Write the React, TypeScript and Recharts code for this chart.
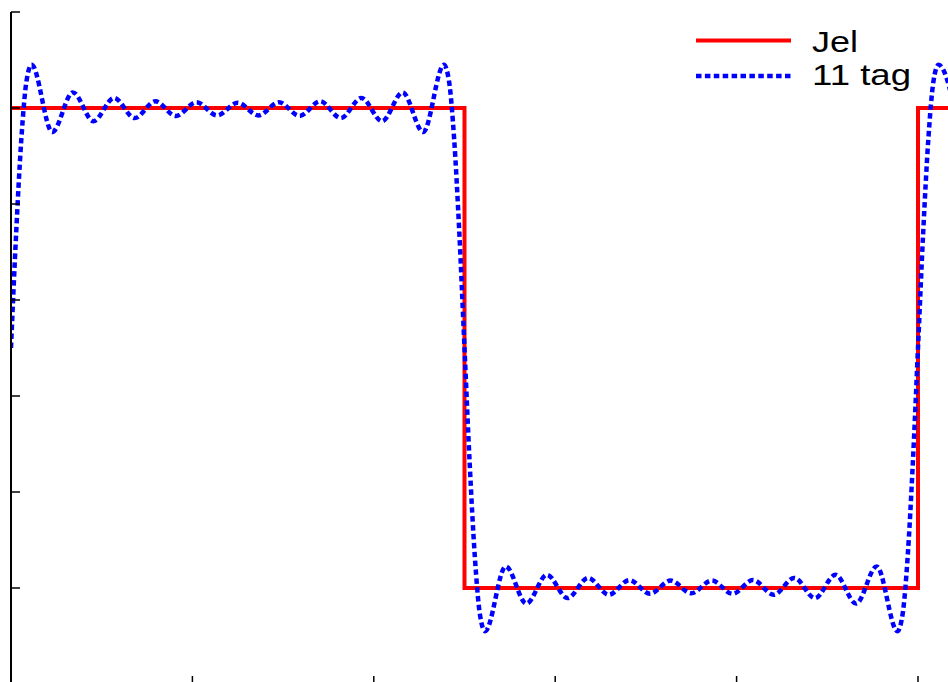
import React from "react"
import { LineChart, Line, XAxis, YAxis } from "recharts"

// square wave ("Jel")
const jelX = [0, 0.5, 0.5, 1, 1, 1.05]
const jelY = [1, 1, -1, -1, 1, 1]

// 11-term approximation ("11 tag")
const tagX = [
  0, 0.0057, 0.0114, 0.017, 0.0227, 0.0455, 0.0682, 0.0909, 0.1136, 0.1364,
  0.1591, 0.1818, 0.2045, 0.2273, 0.25, 0.2727, 0.2955, 0.3182, 0.3409, 0.3636,
  0.3864, 0.4091, 0.4318, 0.4545, 0.4773, 0.483, 0.4886, 0.4943,
  0.5, 0.5057, 0.5114, 0.517, 0.5227, 0.5455, 0.5682, 0.5909, 0.6136, 0.6364,
  0.6591, 0.6818, 0.7045, 0.7273, 0.75, 0.7727, 0.7955, 0.8182, 0.8409, 0.8636,
  0.8864, 0.9091, 0.9318, 0.9545, 0.9773, 0.983, 0.9886, 0.9943,
  1, 1.0057, 1.0114, 1.017, 1.0227, 1.0455,
]
const tagY = [
  0, 0.48, 0.87, 1.11, 1.18, 0.9, 1.065, 0.945, 1.042, 0.958,
  1.028, 0.967, 1.024, 0.969, 1.022, 0.969, 1.024, 0.967, 1.028, 0.958,
  1.042, 0.945, 1.065, 0.9, 1.18, 1.11, 0.87, 0.48,
  0, -0.48, -0.87, -1.11, -1.18, -0.91, -1.065, -0.945, -1.042, -0.958,
  -1.028, -0.967, -1.024, -0.969, -1.022, -0.969, -1.024, -0.967, -1.028, -0.958,
  -1.042, -0.945, -1.065, -0.91, -1.18, -1.11, -0.87, -0.48,
  0, 0.48, 0.87, 1.11, 1.18, 0.9,
]

const xTicks = [0, 0.2, 0.4, 0.6, 0.8, 1]
const yTicks = [-1.4, -1, -0.6, -0.2, 0.2, 0.6, 1, 1.4]

const jelData = jelX.map((x, i) => ({ x, y: jelY[i] }))
const tagData = tagX.map((x, i) => ({ x, y: tagY[i] }))

const RED = "#ff0000"
const BLUE = "#0000ff"
const DASH = "5.5 3.4"

// no tick labels, only the tick marks
const noLabel = () => <g />

function LegendBox() {
  const font = { fontFamily: "'Liberation Sans', Arial, sans-serif", fontSize: 30, fill: "#000" }
  return (
    <svg width={948} height={110} style={{ position: "absolute", left: 0, top: 0 }}>
      <line x1={696} x2={791} y1={40.5} y2={40.5} stroke={RED} strokeWidth={4} />
      <line x1={696} x2={791} y1={76} y2={76} stroke={BLUE} strokeWidth={4.5} strokeDasharray={DASH} />
      <text x={812} y={52} textLength={46} lengthAdjust="spacingAndGlyphs" {...font}>Jel</text>
      <text x={812} y={85} textLength={99} lengthAdjust="spacingAndGlyphs" {...font}>11 tag</text>
    </svg>
  )
}

export default function App() {
  return (
    <div
      style={{
        position: "absolute",
        left: 0,
        top: 0,
        width: 948,
        height: 682,
        overflow: "hidden",
        background: "#fff",
      }}
    >
      <LineChart width={956} height={700} margin={{ top: 12, right: 1.72, bottom: 16, left: 11 }}>
        <XAxis
          type="number"
          dataKey="x"
          domain={[0, 1.04]}
          ticks={xTicks}
          allowDataOverflow
          height={16}
          mirror
          tick={noLabel}
          tickSize={8}
          axisLine={false}
          tickLine={{ stroke: "#000", strokeWidth: 1.5 }}
        />
        <YAxis
          type="number"
          dataKey="y"
          domain={[-1.4, 1.4]}
          ticks={yTicks}
          allowDataOverflow
          width={11}
          mirror
          tick={noLabel}
          tickSize={9}
          axisLine={{ stroke: "#000", strokeWidth: 2 }}
          tickLine={{ stroke: "#000", strokeWidth: 1.5 }}
        />
        <Line
          data={jelData}
          dataKey="y"
          type="linear"
          stroke={RED}
          strokeWidth={4}
          dot={false}
          activeDot={false}
          isAnimationActive={false}
        />
        <Line
          data={tagData}
          dataKey="y"
          type="monotone"
          stroke={BLUE}
          strokeWidth={4.5}
          strokeDasharray={DASH}
          dot={false}
          activeDot={false}
          isAnimationActive={false}
        />
      </LineChart>
      <LegendBox />
    </div>
  )
}
